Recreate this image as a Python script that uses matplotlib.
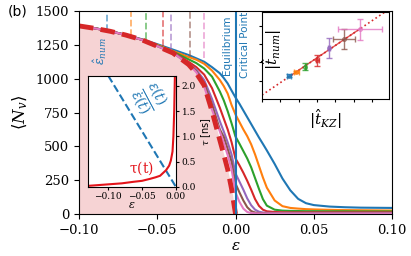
import numpy as np
import matplotlib
matplotlib.use('Agg')
import matplotlib.pyplot as plt

plt.rcParams['mathtext.fontset'] = 'dejavuserif'

# ---- data ----
eps = [-0.10, -0.09, -0.08, -0.07, -0.06, -0.05, -0.04, -0.03, -0.025, -0.02,
       -0.015, -0.01, -0.0075, -0.005, -0.0025, 0.0, 0.0025, 0.005, 0.0075,
       0.01, 0.0125, 0.015, 0.0175, 0.02, 0.025, 0.03, 0.035, 0.04, 0.045,
       0.05, 0.06, 0.07, 0.08, 0.09, 0.10]

eps_eq = [-0.10, -0.09, -0.08, -0.07, -0.06, -0.05, -0.04, -0.03, -0.025,
          -0.02, -0.015, -0.01, -0.0075, -0.005, -0.0025, 0.0]
n_eq = [1390, 1372, 1350, 1322, 1288, 1240, 1190, 1105, 1040, 950, 760,
        545, 440, 330, 185, 0]

n_blue = [1392, 1374, 1352, 1324, 1292, 1255, 1215, 1175, 1150, 1125, 1085,
          1040, 1005, 965, 912, 861, 815, 765, 715, 665, 615, 565, 518, 470,
          370, 262, 175, 112, 80, 66, 55, 50, 47, 46, 45]
n_orange = [1391, 1373, 1351, 1322, 1289, 1250, 1205, 1160, 1140, 1110, 1060,
            990, 945, 890, 805, 735, 680, 625, 575, 515, 440, 355, 270, 195,
            100, 58, 45, 40, 36, 34, 31, 29, 28, 27, 26]
n_green = [1391, 1373, 1351, 1322, 1289, 1245, 1200, 1143, 1115, 1075, 1015,
           905, 840, 760, 670, 572, 520, 465, 410, 345, 265, 185, 110, 62,
           32, 25, 23, 22, 21, 21, 20, 20, 19, 19, 19]
n_red = [1391, 1372, 1351, 1322, 1288, 1243, 1195, 1125, 1085, 1030, 930,
         785, 705, 625, 530, 410, 360, 305, 245, 180, 110, 60, 32, 20, 15,
         13, 12, 12, 12, 12, 12, 12, 12, 12, 12]
n_purple = [1391, 1372, 1351, 1322, 1288, 1242, 1193, 1115, 1065, 990, 850,
            685, 610, 530, 440, 300, 240, 180, 115, 65, 32, 17, 11, 9, 8, 8,
            8, 8, 8, 8, 8, 8, 8, 8, 8]
n_brown = [1391, 1372, 1351, 1322, 1288, 1241, 1192, 1110, 1055, 965, 810,
           625, 570, 480, 385, 225, 160, 100, 50, 22, 11, 7, 6, 6, 6, 6, 6,
           6, 6, 6, 6, 6, 6, 6, 6]
n_pink = [1391, 1372, 1351, 1322, 1288, 1241, 1191, 1107, 1047, 940, 770,
          610, 525, 435, 330, 160, 90, 40, 15, 7, 5, 4, 4, 4, 4, 4, 4, 4, 4,
          4, 4, 4, 4, 4, 4]
curves = [n_blue, n_orange, n_green, n_red, n_purple, n_brown, n_pink]
colors = ['tab:blue', 'tab:orange', 'tab:green', 'tab:red', 'tab:purple',
          'tab:brown', 'tab:pink']

eps_hat = [-0.082, -0.0666, -0.0574, -0.0465, -0.0412, -0.0289, -0.0203]
n_hat = [1355, 1315, 1290, 1240, 1215, 1160, 1150]

# left inset: relaxation time and eps/epsdot
eps_tau = [-0.13, -0.10, -0.08, -0.063, -0.05, -0.038, -0.03, -0.0234,
           -0.0146, -0.01, -0.0075, -0.005, -0.0037, -0.0025, -0.0015]
tau = [0.02, 0.05, 0.07, 0.10, 0.12, 0.16, 0.19, 0.22, 0.33, 0.42, 0.52,
       0.70, 1.0, 1.5, 2.2]
eps_ratio = [-0.10, 0.0]
ratio = [2.2, 0.0]

# right inset: t_num vs t_KZ
t_kz = [1.47, 1.88, 2.37, 3.02, 3.66, 4.47, 5.33]
t_num = [1.27, 1.49, 1.76, 2.13, 2.77, 3.26, 3.80]
t_kz_err = [0.1, 0.15, 0.05, 0.1, 0.05, 0.6, 1.2]
t_num_err = [0.08, 0.05, 0.2, 0.3, 0.55, 0.55, 0.55]
fit_x = [0.0, 7.0]
fit_y = [0.22, 4.95]
fit_x_solid = [1.4, 5.4]
fit_y_solid = [1.17, 3.87]

fig = plt.figure(figsize=(4.11, 2.56), dpi=100)
ax = fig.add_axes([0.192, 0.164, 0.762, 0.793])

ax.fill_between(eps_eq, n_eq, 0, color='tab:red', alpha=0.2, lw=0)
for n, c in zip(curves, colors):
    ax.plot(eps, n, color=c, lw=1.5)
for e, nh, c in zip(eps_hat, n_hat, colors):
    ax.vlines(e, nh, 1500, colors=c, linestyles='--', lw=1.3, alpha=0.6)
ax.plot(eps_eq, n_eq, color='tab:red', lw=3.5, ls='--', dashes=(3, 1.5))
ax.axvline(0, color='tab:blue', lw=1.5)

ax.text(-0.0865, 1205, r'$\hat{\epsilon}_{num}$', color='tab:blue',
        rotation=90, ha='center', va='center', fontsize=9)
ax.text(-0.0055, 1250, 'Equilibrium', color='tab:blue', rotation=90,
        ha='center', va='center', fontsize=7.5)
ax.text(0.0062, 1250, 'Critical Point', color='tab:blue', rotation=90,
        ha='center', va='center', fontsize=7.5)

ax.set_xlim(-0.1, 0.1)
ax.set_ylim(0, 1500)
ax.set_xticks([-0.10, -0.05, 0.0, 0.05, 0.10])
ax.set_xticklabels(['\u22120.10', '\u22120.05', '0.00', '0.05', '0.10'])
ax.set_yticks([0, 250, 500, 750, 1000, 1250, 1500])
for lab in ax.get_xticklabels() + ax.get_yticklabels():
    lab.set_fontfamily('DejaVu Serif')
    lab.set_fontsize(9.5)
ax.set_xlabel(r'$\epsilon$', fontsize=11, labelpad=1)
ax.set_ylabel(r'$\langle N_v \rangle$', fontsize=12, labelpad=4)
fig.text(0.02, 0.955, '(b)', fontsize=10, va='center')

# left inset
ax1 = fig.add_axes([0.214, 0.270, 0.214, 0.434])
ax1.plot(eps_ratio, ratio, color='tab:blue', ls='--', lw=1.5)
ax1.plot(eps_tau, tau, color='#e3141b', lw=1.5)
ax1.set_xlim(-0.13, 0)
ax1.set_ylim(0, 2.2)
ax1.yaxis.tick_right()
ax1.yaxis.set_label_position('right')
ax1.set_xticks([-0.10, -0.05, 0.0])
ax1.set_xticklabels(['\u22120.10', '\u22120.05', '0.00'])
ax1.set_yticks([0.0, 0.5, 1.0, 1.5, 2.0])
ax1.set_yticklabels(['0.0', '0.5', '1.0', '1.5', '2.0'])
ax1.tick_params(labelsize=6.5, length=2.5, pad=1.5)
for lab in ax1.get_xticklabels() + ax1.get_yticklabels():
    lab.set_fontfamily('DejaVu Serif')
ax1.set_xlabel(r'$\epsilon$', fontsize=8, labelpad=-1)
ax1.set_ylabel(r'$\tau$ [ns]', fontsize=7, labelpad=2)
ax1.text(-0.0516, 0.38, r'$\mathrm{\tau(t)}$', color='#e3141b', fontsize=10,
         ha='center', va='center')
ax1.text(-0.042, 1.75, r'$\frac{\epsilon(t)}{\dot{\epsilon}(t)}$',
         color='tab:blue', fontsize=14, rotation=-62, ha='center',
         va='center')

# right inset
ax2 = fig.add_axes([0.6375, 0.613, 0.309, 0.340])
ax2.plot(fit_x, fit_y, color='tab:red', ls=':', lw=1.2)
ax2.plot(fit_x_solid, fit_y_solid, color='tab:red', lw=1.0, alpha=0.8)
for i in range(len(t_kz)):
    ax2.errorbar(t_kz[i], t_num[i], xerr=t_kz_err[i], yerr=t_num_err[i],
                 color=colors[i], marker='o', ms=2.5, mfc='none', capsize=2,
                 lw=1, alpha=0.8)
ax2.set_xlim(0, 6.93)
ax2.set_ylim(0, 4.75)
ax2.set_xticks([0, 1, 2, 3, 4, 5, 6])
ax2.set_yticks([1, 2, 3, 4])
ax2.tick_params(labelbottom=False, labelleft=False, length=2.5)
ax2.set_xlabel(r'$|\hat{t}_{KZ}|$', fontsize=11, labelpad=3)
ax2.set_ylabel(r'$|\hat{t}_{num}|$', fontsize=11)
ax2.yaxis.set_label_coords(0.17, 0.57)

fig.savefig('out.png', dpi=100)
